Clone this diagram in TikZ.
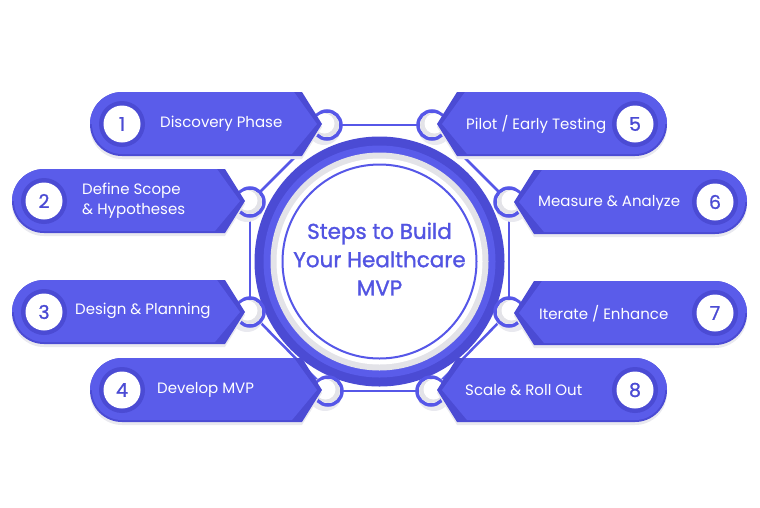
\documentclass[tikz,border=0pt]{standalone}
\usepackage{fontspec}
\setmainfont{Poppins}
\newfontfamily\titlefont{Poppins}[FakeBold=1.3]
\newfontfamily\numfont{Poppins}[FakeBold=1.1]
\usetikzlibrary{calc}
\definecolor{mvpblue}{HTML}{5A5CEA}
\definecolor{mvpdark}{HTML}{4B4BD4}
\definecolor{mvpline}{HTML}{5657E8}
\definecolor{mvpgrey}{HTML}{E3E3E8}
\definecolor{mvpshadow}{HTML}{E9E9EF}
\definecolor{mvptext}{HTML}{5254E2}
\tikzset{
  conn/.style={draw=mvpline, line width=2.5pt},
  smallc/.style={circle, draw=mvpline, line width=3.5pt, fill=white, minimum size=28pt, inner sep=0pt},
  numc/.style={circle, fill=white, minimum size=37pt, inner sep=0pt, text=mvpdark, font=\numfont\fontsize{19}{19}\selectfont},
  lbl/.style={anchor=west, text=white, inner sep=0pt, align=left, font=\fontsize{15}{20}\selectfont},
  ttl/.style={align=center, text=mvptext, inner sep=0pt, font=\titlefont\fontsize{21.5}{28.3}\selectfont}
}
% left badge: #1 = number-circle x, #2 = corner x, #3 = centre y
\newcommand{\mvpleftbadge}[3]{%
  \fill[mvpshadow] (#1,#3+-29) -- (#2,#3-29) -- (#2+20,#3+3) -- (#2,#3+35) -- (#1,#3+35)
    arc[start angle=90,end angle=270,radius=32] -- cycle;
  \fill[mvpdark] (#1,#3-32) -- (#2,#3-32) -- (#2+20,#3) -- (#2,#3+32) -- (#1,#3+32)
    arc[start angle=90,end angle=270,radius=32] -- cycle;
  \fill[mvpblue] (#1,#3-32) -- (#2-8,#3-32) -- (#2+15,#3) -- (#2-10,#3+30) -- (#1,#3+30)
    arc[start angle=90,end angle=180,radius=30] -- (#1-32,#3) arc[start angle=180,end angle=270,radius=32] -- cycle;
  \fill[mvpdark] (#1,#3) circle (23);
}
% right badge: #1 = number-circle x, #2 = corner x, #3 = centre y
\newcommand{\mvprightbadge}[3]{%
  \fill[mvpshadow] (#1,#3-29) -- (#2,#3-29) -- (#2-20,#3+3) -- (#2,#3+35) -- (#1,#3+35)
    arc[start angle=90,end angle=-90,radius=32] -- cycle;
  \fill[mvpdark] (#1,#3-32) -- (#2,#3-32) -- (#2-20,#3) -- (#2,#3+32) -- (#1,#3+32)
    arc[start angle=90,end angle=-90,radius=32] -- cycle;
  \fill[mvpblue] (#1,#3-32) -- (#2+8,#3-32) -- (#2-15,#3) -- (#2+10,#3+30) -- (#1,#3+30)
    arc[start angle=90,end angle=0,radius=30] -- (#1+32,#3) arc[start angle=0,end angle=-90,radius=32] -- cycle;
  \fill[mvpdark] (#1,#3) circle (23);
}
\begin{document}
\begin{tikzpicture}[x=1pt,y=-1pt]
\useasboundingbox (0,0) rectangle (760,507);
% centres of the small joint circles
\coordinate (p1) at (327,125);
\coordinate (p2) at (250,202);
\coordinate (p3) at (250,312);
\coordinate (p4) at (328,391);
\coordinate (p5) at (432,125);
\coordinate (p6) at (509,202);
\coordinate (p7) at (509,312);
\coordinate (p8) at (431,391);
\coordinate (ctr) at (379.5,261.5);
% connectors
\draw[conn] (p1) -- (p5);
\draw[conn] (p5) -- (p6);
\draw[conn] (p6) -- (p7);
\draw[conn] (p7) -- (p8);
\draw[conn] (p8) -- (p4);
\draw[conn] (p4) -- (p3);
\draw[conn] (p3) -- (p2);
\draw[conn] (p2) -- (p1);
% central circle
\fill[mvpdark] (ctr) circle (125);
\fill[mvpblue] (ctr) circle (116);
\fill[mvpgrey] (ctr) circle (109);
\fill[white] (ctr) circle (103);
\draw[mvpline, line width=2pt] (ctr) circle (97);
\node[ttl] (title) at (379.5,259) {Steps to Build\\Your Healthcare\\MVP};
% small joint circles (left side)
\foreach \p in {p1,p2,p3,p4}{
  \fill[mvpshadow] ($(\p)+(-3,3)$) circle (17);
  \node[smallc] (s\p) at (\p) {};
  \fill[mvpgrey] (\p) circle (12);
  \fill[white] ($(\p)+(-2.5,-1.5)$) circle (10);
}
% small joint circles (right side)
\foreach \p in {p5,p6,p7,p8}{
  \fill[mvpshadow] ($(\p)+(3,3)$) circle (17);
  \node[smallc] (s\p) at (\p) {};
  \fill[mvpgrey] (\p) circle (12);
  \fill[white] ($(\p)+(2.5,-1.5)$) circle (10);
}
% badges
\mvpleftbadge{122}{302}{124}
\node[numc] (n1) at (122,124) {1};
\node[lbl] (t1) at (160,124) {Discovery Phase};
\mvpleftbadge{44}{225}{201}
\node[numc] (n2) at (44,201) {2};
\node[lbl] (t2) at (82,201) {Define Scope\\\& Hypotheses};
\mvpleftbadge{44}{225}{312}
\node[numc] (n3) at (44,312) {3};
\node[lbl] (t3) at (75,311) {Design \& Planning};
\mvpleftbadge{122}{302}{390}
\node[numc] (n4) at (122,390) {4};
\node[lbl] (t4) at (157,390) {Develop MVP};
\mvprightbadge{635}{457}{124}
\node[numc] (n5) at (635,124) {5};
\node[lbl] (t5) at (466,124) {Pilot / Early Testing};
\mvprightbadge{715}{534}{202}
\node[numc] (n6) at (715,202) {6};
\node[lbl] (t6) at (538,203) {Measure \& Analyze};
\mvprightbadge{715}{534}{313}
\node[numc] (n7) at (715,313) {7};
\node[lbl] (t7) at (539,314) {Iterate / Enhance};
\mvprightbadge{635}{457}{390}
\node[numc] (n8) at (635,390) {8};
\node[lbl] (t8) at (465,390) {Scale \& Roll Out};
\end{tikzpicture}
\end{document}
